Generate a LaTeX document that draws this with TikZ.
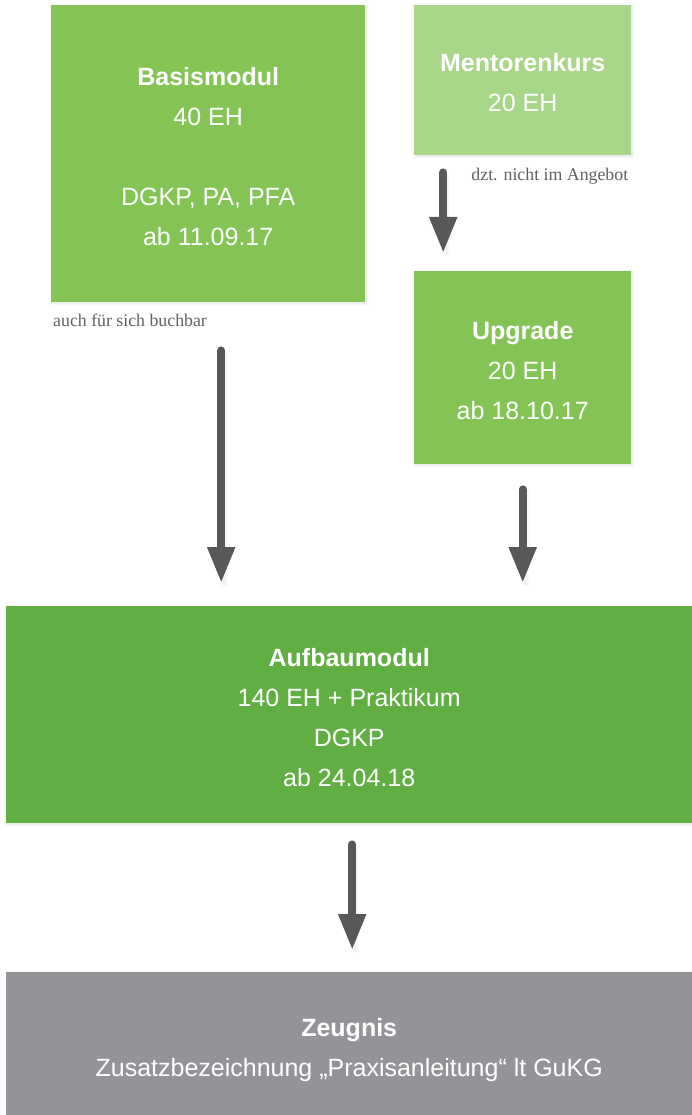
\documentclass[tikz,border=0pt]{standalone}
\usepackage{fontspec}
\setmainfont{Liberation Sans}
\newfontfamily\notefont{Liberation Serif}
\usetikzlibrary{arrows.meta,shadows.blur}
\definecolor{gMid}{HTML}{84C455}
\definecolor{gLight}{HTML}{A8D689}
\definecolor{gDark}{HTML}{61AE42}
\definecolor{gGray}{HTML}{939498}
\definecolor{arrGray}{HTML}{58585A}
\definecolor{noteGray}{HTML}{606062}
\newcommand{\topbump}[1]{\rule{0pt}{#1}}
\tikzset{
  box/.style={anchor=north west, inner sep=0pt, text=white, align=center,
    font=\fontsize{25}{40}\selectfont,
    blur shadow={shadow xshift=1pt, shadow yshift=-1pt, shadow blur steps=6, shadow blur radius=3pt, shadow opacity=12}},
  arr/.style={draw=arrGray, line width=8pt, line cap=round,
    -{Triangle[width=26pt,length=36pt]},
    blur shadow={shadow xshift=3pt, shadow yshift=-2pt, shadow blur steps=6, shadow blur radius=4pt, shadow opacity=15}},
  note/.style={inner sep=0pt, text=noteGray, font=\notefont\fontsize{17.8}{20}\selectfont}
}
\begin{document}
\begin{tikzpicture}[x=1pt,y=-1pt]
\useasboundingbox (0,0) rectangle (692,1115);
\node[box, fill=gMid, minimum width=314pt, minimum height=297pt] (basis) at (51,5)
  {\topbump{24pt}\textbf{Basismodul}\\40 EH\\[40pt]DGKP, PA, PFA\\ab 11.09.17};
\node[box, fill=gLight, minimum width=217pt, minimum height=150pt] (mentor) at (414,5)
  {\topbump{23pt}\textbf{Mentorenkurs}\\20 EH};
\node[box, fill=gMid, minimum width=217pt, minimum height=193pt] (upgrade) at (414,271)
  {\topbump{23pt}\textbf{Upgrade}\\20 EH\\ab 18.10.17};
\node[box, fill=gDark, minimum width=686pt, minimum height=217pt] (aufbau) at (6,606)
  {\topbump{23pt}\textbf{Aufbaumodul}\\140 EH + Praktikum\\DGKP\\ab 24.04.18};
\node[box, fill=gGray, minimum width=686pt, minimum height=143pt] (zeugnis) at (6,972)
  {\topbump{30pt}\textbf{Zeugnis}\\Zusatzbezeichnung „Praxisanleitung“ lt GuKG};
\node[note, anchor=north west] (n1) at ([xshift=2pt,yshift=-11pt]basis.south west) {auch für sich buchbar};
\node[note, anchor=north east] (n2) at ([xshift=-3pt,yshift=-13pt]mentor.south east) {dzt. nicht im Angebot};
\draw[arr] ([xshift=13pt,yshift=-48pt]basis.south) -- ([xshift=13pt,yshift=23pt]basis.south |- aufbau.north);
\draw[arr] ([xshift=-79.5pt,yshift=-17pt]mentor.south) -- ([xshift=-79.5pt,yshift=18pt]mentor.south |- upgrade.north);
\draw[arr] ([yshift=-25pt]upgrade.south) -- ([yshift=23pt]upgrade.south |- aufbau.north);
\draw[arr] ([xshift=3pt,yshift=-21pt]aufbau.south) -- ([xshift=3pt,yshift=22pt]aufbau.south |- zeugnis.north);
\end{tikzpicture}
\end{document}
